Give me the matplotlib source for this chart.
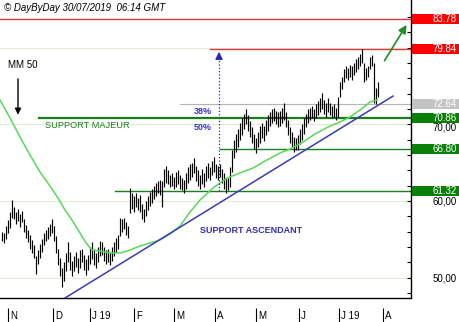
import numpy as np
import matplotlib.pyplot as plt
from matplotlib.patches import Rectangle

plt.rcParams['font.family'] = ['Liberation Sans', 'DejaVu Sans']

# daily bars (trading-day index 0 = 26/10/2018)
highs = [56.0, 55.8, 56.8, 57.5, 58.6, 60.1, 59.2, 58.6, 58.9, 58.3,
         58.7, 57.6, 56.9, 56.2, 55.6, 54.9, 54.3, 52.8, 53.6, 54.4,
         55.0, 55.8, 56.2, 56.6, 57.0, 57.6, 56.8, 55.4, 53.8, 52.6,
         51.2, 52.0, 53.2, 54.6, 53.4, 52.2, 52.8, 53.4, 52.6, 53.6,
         53.8, 53.0, 52.4, 53.0, 54.0, 54.6, 53.8, 53.2, 54.0, 54.8,
         54.7, 54.0, 53.6, 53.8, 53.4, 54.0, 54.6, 55.2, 55.6, 57.8,
         57.6, 57.8, 57.2, 56.8, 61.7, 61.0, 60.6, 61.0, 60.4, 60.8,
         59.6, 59.0, 60.0, 60.6, 61.2, 61.6, 62.0, 62.4, 62.6, 62.8,
         62.6, 64.2, 64.6, 64.0, 63.4, 63.6, 63.2, 63.8, 64.0, 63.4,
         63.0, 62.8, 63.6, 64.4, 64.8, 65.0, 65.6, 64.6, 64.0, 63.4,
         64.2, 63.6, 64.6, 65.0, 64.4, 65.2, 65.8, 64.8, 64.6, 64.8,
         64.2, 63.6, 63.0, 63.0, 64.4, 66.6, 68.0, 68.8, 69.4, 70.2,
         70.8, 71.4, 72.0, 71.2, 70.4, 69.6, 68.8, 68.2, 69.0, 69.8,
         70.2, 69.8, 70.6, 71.2, 71.6, 72.0, 72.2, 71.8, 71.6, 71.8,
         72.2, 72.8, 71.6, 70.6, 69.6, 69.0, 68.4, 68.2, 68.6, 69.4,
         70.0, 70.8, 71.4, 72.0, 72.2, 72.4, 72.0, 72.6, 73.0, 73.4,
         74.1, 73.2, 72.8, 73.4, 72.8, 72.4, 72.6, 72.2, 73.6, 75.6,
         76.2, 77.2, 77.6, 77.4, 77.8, 77.6, 78.0, 78.6, 78.8, 79.2,
         79.8, 78.0, 77.4, 77.6, 78.8, 79.0, 78.0, 74.8, 75.6]
lows = [54.8, 54.5, 55.0, 55.8, 56.5, 57.8, 57.6, 57.0, 57.4, 56.6,
        57.2, 56.0, 55.2, 54.6, 53.8, 53.2, 52.6, 50.5, 51.8, 52.6,
        53.4, 54.2, 54.8, 55.0, 55.4, 55.8, 54.8, 53.2, 51.6, 50.2,
        48.8, 49.6, 50.8, 52.0, 51.0, 50.2, 50.8, 51.4, 50.6, 51.2,
        52.0, 51.0, 50.4, 51.0, 51.8, 52.4, 51.6, 51.2, 52.0, 52.8,
        53.0, 52.2, 51.8, 52.0, 51.6, 52.2, 52.8, 53.4, 53.8, 55.4,
        56.0, 56.4, 55.6, 55.2, 58.4, 59.0, 58.6, 59.2, 58.8, 58.6,
        57.6, 57.2, 58.0, 58.8, 59.4, 59.8, 60.2, 60.6, 61.0, 60.8,
        59.2, 61.8, 62.4, 62.2, 61.8, 62.0, 61.6, 61.8, 62.2, 61.6,
        61.4, 61.0, 61.6, 62.4, 62.8, 63.2, 63.6, 62.6, 62.0, 61.6,
        62.2, 61.8, 62.6, 63.0, 62.8, 63.4, 63.8, 63.0, 62.8, 63.2,
        62.4, 61.6, 61.0, 61.4, 61.8, 63.8, 65.6, 66.4, 67.0, 68.0,
        68.6, 69.4, 70.0, 69.2, 68.4, 67.6, 66.8, 66.3, 67.0, 67.6,
        68.2, 67.8, 68.6, 69.2, 69.8, 70.2, 70.4, 70.0, 69.6, 69.8,
        70.2, 70.6, 69.6, 68.6, 67.6, 67.0, 66.4, 66.6, 66.6, 67.4,
        68.0, 68.8, 69.6, 70.2, 70.6, 70.8, 70.4, 70.8, 71.2, 71.6,
        72.0, 71.4, 71.0, 71.6, 71.2, 70.8, 71.0, 70.6, 71.0, 73.6,
        74.6, 75.6, 76.0, 75.8, 76.2, 75.8, 76.4, 76.8, 77.2, 77.6,
        78.0, 75.6, 75.8, 76.2, 77.2, 77.6, 72.8, 72.6, 73.6]

# 50-day moving average
ma_x = [-1, 4, 9, 14, 19, 24, 28, 31.5, 35, 39, 42, 45, 49, 54, 59, 64, 69,
        74, 79, 84, 89, 94, 99, 105.5, 112.5, 119, 125.5, 132.5, 139, 144,
        150.5, 156.5, 164, 169, 174, 179, 184, 187.5]
ma_val = [73.19, 70.84, 68.36, 66.0, 63.79, 61.96, 60.39, 58.83, 57.52,
          55.82, 54.52, 53.6, 53.47, 53.21, 53.21, 53.6, 54.13, 54.52,
          54.91, 55.69, 56.74, 58.56, 60.13, 61.7, 63.0, 63.66, 64.31,
          65.35, 66.27, 66.79, 67.7, 68.75, 69.79, 70.31, 70.97, 71.88,
          72.92, 73.19]

# support ascendant
trend_x = [31.5, 195.5]
trend_y = [47.34, 73.7]

levels = [83.78, 79.84, 72.64, 70.86, 66.80, 61.32]
level_labels = ['83.78', '79.84', '72.64', '70.86', '66.80', '61.32']

month_pos = [3, 25.5, 44, 66, 86, 106.5, 127, 148.5, 168.5, 190.5]
month_labels = ['N', 'D', 'J 19', 'F', 'M', 'A', 'M', 'J', 'J 19', 'A']

axis_vals = [70, 60, 50]
axis_labels = ['70,00', '60,00', '50,00']

# styling
line_start = [-1, 104, 89, 18.5, 109, 56.5]
line_col = ['#dc3a3a', '#dc3a3a', '#b4b4b4', '#17801a', '#17801a', '#17801a']
line_w = [1.0, 1.0, 0.8, 1.6, 1.0, 1.0]
box_col = ['#ff0000', '#ff0000', '#c4c4c4', '#0a800a', '#0a800a', '#0a800a']

W, H = 460, 322
ymin, ymax = 47.34, 86.24
xmin, xmax = -1, 204.5

fig = plt.figure(figsize=(W / 100, H / 100), dpi=100)
ax = fig.add_axes([0, 24 / H, 411 / W, 298 / H])
ax.set_xlim(xmin, xmax)
ax.set_ylim(ymin, ymax)

for v in [50, 60, 70, 80]:
    ax.axhline(v, color='#e2edd8', lw=0.8, zorder=0)

for lvl, x0, c, w in zip(levels, line_start, line_col, line_w):
    ax.plot([x0, xmax], [lvl, lvl], color=c, lw=w, zorder=2)

idx = np.arange(len(highs))
ax.vlines(idx, lows, highs, color='black', lw=0.85, zorder=3)

ax.plot(ma_x, ma_val, color='#5ad75a', lw=1.1, zorder=4)
ax.plot(trend_x, trend_y, color='#3a3ab4', lw=1.1, zorder=4)

# annotations
ax.text(3, 77.75, 'MM 50', fontsize=7, va='center')
ax.annotate('', xy=(8, 70.9), xytext=(8, 76.3),
            arrowprops=dict(arrowstyle='-|>', color='black', lw=1, mutation_scale=9))
ax.text(21.5, 69.9, 'SUPPORT MAJEUR', color='#1a7d1a', fontsize=6.7, va='center')
ax.text(96, 71.75, '38%', color='#3535c8', fontsize=6.5, weight='bold', va='center')
ax.text(96, 69.66, '50%', color='#3535c8', fontsize=6.5, weight='bold', va='center')
ax.text(99, 56.1, 'SUPPORT ASCENDANT', color='#3030b0', fontsize=6.5,
        weight='bold', va='center')
ax.plot([108.5, 108.5], [61.32, 78.6], ls=':', color='#2525c0', lw=0.9, zorder=5)
ax.annotate('', xy=(108.5, 79.84), xytext=(108.5, 78.4),
            arrowprops=dict(arrowstyle='-|>', color='#2525c0', lw=0.9, mutation_scale=11))
ax.annotate('', xy=(203, 83.3), xytext=(190.5, 78.0),
            arrowprops=dict(arrowstyle='-|>', color='#1f8f1f', lw=1.2, mutation_scale=12))

for s in ['left', 'top']:
    ax.spines[s].set_visible(False)
for s in ['right', 'bottom']:
    ax.spines[s].set_color('black')
    ax.spines[s].set_linewidth(1.0)
ax.set_xticks([])
ax.yaxis.tick_right()
ax.set_yticks(np.arange(48, 86, 2))
ax.tick_params(axis='y', direction='in', length=3, width=0.8, labelright=False)

# right price panel
axr = fig.add_axes([411 / W, 24 / H, 49 / W, 298 / H])
axr.set_xlim(0, 1)
axr.set_ylim(ymin, ymax)
axr.axis('off')
for lvl, lab, c in zip(levels, level_labels, box_col):
    axr.add_patch(Rectangle((0.03, lvl - 0.65), 0.97, 1.3, color=c, lw=0))
    axr.text(0.94, lvl, lab, color='white', fontsize=7, ha='right', va='center')
for v, lab in zip(axis_vals, axis_labels):
    yy = v - 0.35 if v == 70 else v - 0.1
    axr.text(0.94, yy, lab, color='black', fontsize=7, ha='right', va='center')

# month row
axm = fig.add_axes([0, 0, 411 / W, 14 / H])
axm.set_xlim(xmin, xmax)
axm.set_ylim(0, 1)
axm.axis('off')
axm.vlines(month_pos, 0, 1, color='black', lw=0.8)
for p, lab in zip(month_pos, month_labels):
    axm.text(p + 1, 0.42, lab, fontsize=7, va='center', ha='left')

fig.text(4 / W, 1 - 8 / H, '\u00a9 DayByDay 30/07/2019  06:14 GMT',
         style='italic', fontsize=7, va='center')

fig.savefig('out.png', dpi=100)
